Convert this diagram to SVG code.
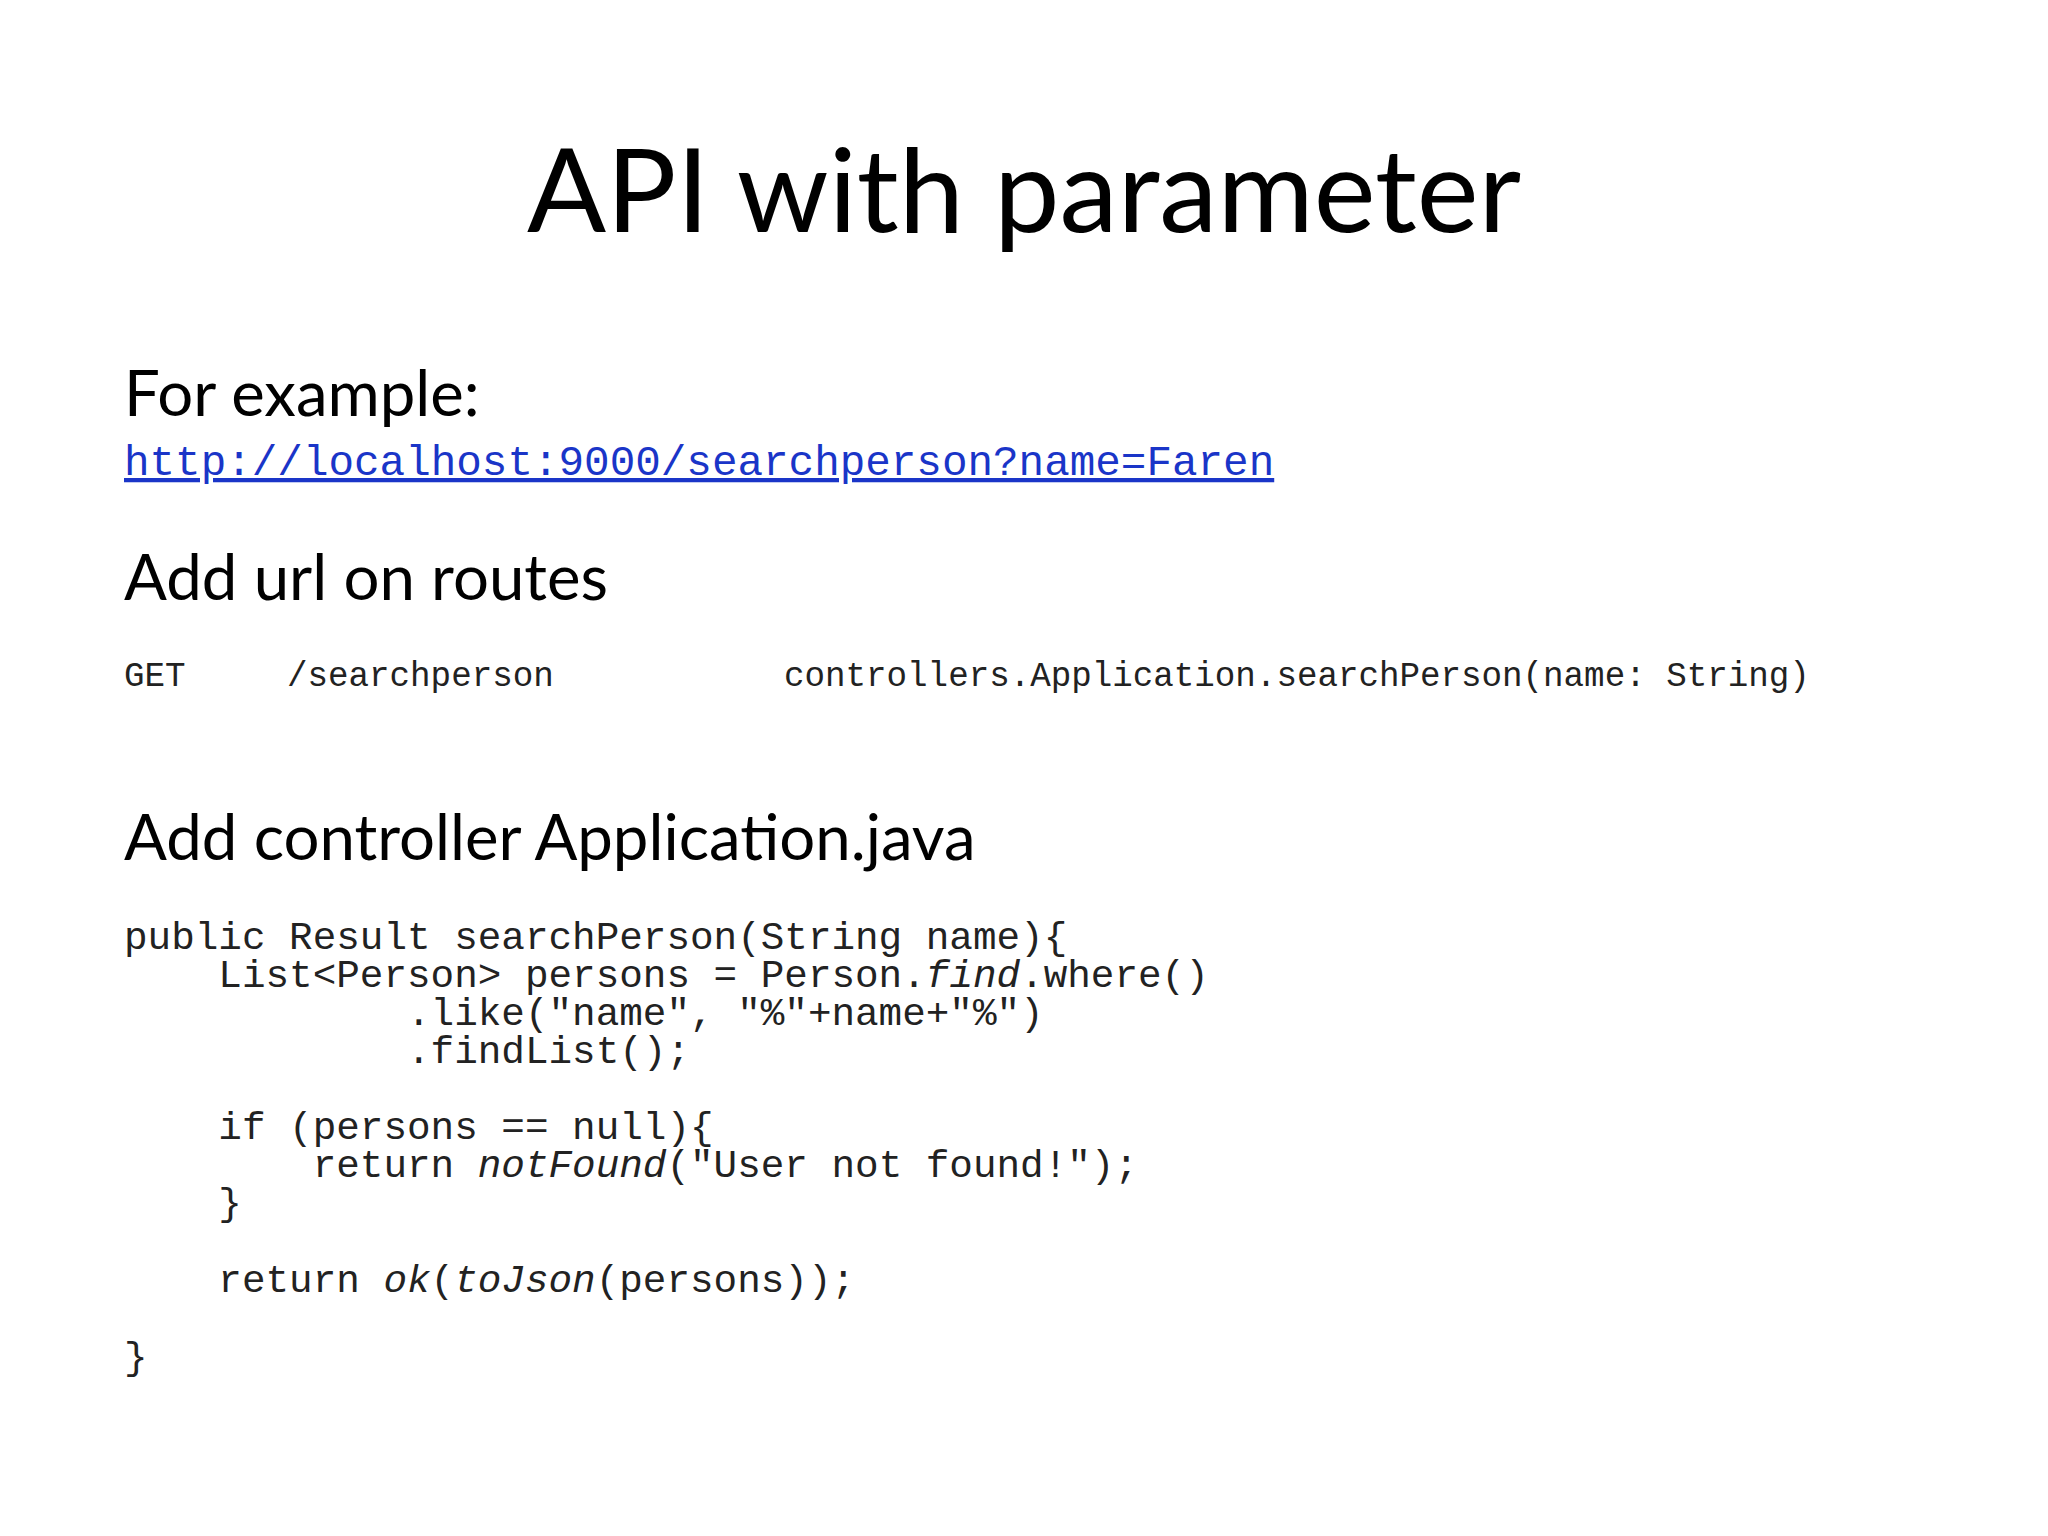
<svg xmlns="http://www.w3.org/2000/svg" width="2048" height="1536" viewBox="0 0 2048 1536">
<style>
.h{font-family:Lato,"Open Sans",sans-serif;fill:#000}
.m{font-family:"Liberation Mono",monospace;fill:#222;white-space:pre}
.i{font-style:italic}
</style>
<rect width="2048" height="1536" fill="#fff"/>
<g id="title"><text class="h" x="1024" y="232" font-size="117" text-anchor="middle">API with parameter</text></g>
<g id="example">
<text class="h" x="124" y="416" font-size="63.5">For example:</text>
<text class="m" x="124" y="475" font-size="42.6" style="fill:#1a35c8" text-decoration="underline">http://localhost:9000/searchperson?name=Faren</text>
</g>
<g id="routes">
<text class="h" x="124" y="600" font-size="63.5">Add url on routes</text>
<text class="m" x="124" y="686" font-size="34.2">GET</text>
<text class="m" x="287" y="686" font-size="34.2">/searchperson</text>
<text class="m" x="784" y="686" font-size="34.2">controllers.Application.searchPerson(name: String)</text>
</g>
<g id="controller">
<text class="h" x="124" y="860" font-size="63.5">Add controller Application.java</text>
<g font-size="39.3">
<text class="m" x="124" y="949" xml:space="preserve">public Result searchPerson(String name){</text>
<text class="m" x="124" y="987" xml:space="preserve">    List&lt;Person&gt; persons = Person.<tspan class="i">find</tspan>.where()</text>
<text class="m" x="124" y="1025" xml:space="preserve">            .like("name", "%"+name+"%")</text>
<text class="m" x="124" y="1063" xml:space="preserve">            .findList();</text>
<text class="m" x="124" y="1139" xml:space="preserve">    if (persons == null){</text>
<text class="m" x="124" y="1177" xml:space="preserve">        return <tspan class="i">notFound</tspan>("User not found!");</text>
<text class="m" x="124" y="1215" xml:space="preserve">    }</text>
<text class="m" x="124" y="1292" xml:space="preserve">    return <tspan class="i">ok</tspan>(<tspan class="i">toJson</tspan>(persons));</text>
<text class="m" x="124" y="1369" xml:space="preserve">}</text>
</g>
</g>
</svg>
